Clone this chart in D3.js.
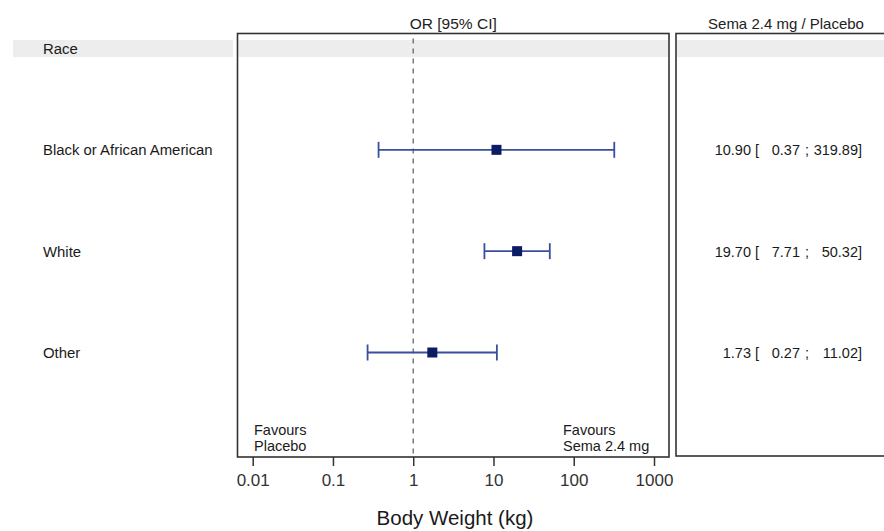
<!DOCTYPE html>
<html>
<head>
<meta charset="utf-8">
<script src="https://cdn.jsdelivr.net/npm/d3@7"></script>
<style>
  html, body { margin: 0; padding: 0; background: #fff; }
  svg { display: block; font-family: "Liberation Sans", Arial, sans-serif; }
</style>
</head>
<body>
<svg id="chart" width="884" height="531"></svg>
<script>
// Subgroup: race. Odds ratios with 95% confidence intervals.
const groupTitle = "Race";
const categories = ["Black or African American", "White", "Other"];
const oddsRatio = [10.90, 19.70, 1.73];
const ciLower = [0.37, 7.71, 0.27];
const ciUpper = [319.89, 50.32, 11.02];
const tickValues = [0.01, 0.1, 1, 10, 100, 1000];
const tickLabels = ["0.01", "0.1", "1", "10", "100", "1000"];

const svg = d3.select("#chart");

// Layout of the panels
const plot = { left: 237.5, right: 669, top: 33.5, bottom: 457 };
const side = { left: 676, right: 900, top: 33.5, bottom: 456 };

const x = d3.scaleLog().domain([0.01, 1000]).range([252.7, 654]);

// Row positions: header row followed by the categories
const y = d3.scalePoint()
  .domain([groupTitle, ...categories])
  .range([48.5, 352.5]);

// Shaded band behind the group header row
const bandTop = 40, bandH = 17;
[[13, 233], [plot.left + 1, plot.right - 1], [side.left + 1, 884]].forEach(([a, b]) => {
  svg.append("rect")
    .attr("x", a).attr("y", bandTop)
    .attr("width", b - a).attr("height", bandH)
    .attr("fill", "#ededed");
});

// Panel frames
svg.append("rect")
  .attr("x", plot.left).attr("y", plot.top)
  .attr("width", plot.right - plot.left).attr("height", plot.bottom - plot.top)
  .attr("fill", "none").attr("stroke", "#333").attr("stroke-width", 1.6);
svg.append("rect")
  .attr("x", side.left).attr("y", side.top)
  .attr("width", side.right - side.left).attr("height", side.bottom - side.top)
  .attr("fill", "none").attr("stroke", "#333").attr("stroke-width", 1.6);

// Column headers
svg.append("text")
  .attr("x", (plot.left + plot.right) / 2).attr("y", 29)
  .attr("text-anchor", "middle").attr("font-size", 15.5).attr("fill", "#222")
  .text("OR [95% CI]");
svg.append("text")
  .attr("x", 786).attr("y", 29)
  .attr("text-anchor", "middle").attr("font-size", 15).attr("fill", "#222")
  .text("Sema 2.4 mg / Placebo");

// Row labels
svg.append("g").selectAll("text")
  .data([groupTitle, ...categories])
  .join("text")
  .attr("x", 43)
  .attr("y", d => y(d) + 5.5)
  .attr("font-size", 14.9)
  .attr("fill", "#1a1a1a")
  .text(d => d);

// Reference line at OR = 1
svg.append("line")
  .attr("x1", x(1)).attr("x2", x(1))
  .attr("y1", plot.top + 5).attr("y2", plot.bottom)
  .attr("stroke", "#666").attr("stroke-width", 1.3)
  .attr("stroke-dasharray", "5,5");

// Confidence intervals with end caps, and point estimates
const rows = categories.map((c, i) => ({ c, or: oddsRatio[i], lo: ciLower[i], hi: ciUpper[i] }));
const ci = svg.append("g").attr("stroke", "#3a4e9c").attr("stroke-width", 1.8);
ci.selectAll("line.ci")
  .data(rows).join("line").attr("class", "ci")
  .attr("x1", d => x(d.lo)).attr("x2", d => x(d.hi))
  .attr("y1", d => y(d.c)).attr("y2", d => y(d.c));
ci.selectAll("line.lo")
  .data(rows).join("line").attr("class", "lo")
  .attr("x1", d => x(d.lo)).attr("x2", d => x(d.lo))
  .attr("y1", d => y(d.c) - 8).attr("y2", d => y(d.c) + 8);
ci.selectAll("line.hi")
  .data(rows).join("line").attr("class", "hi")
  .attr("x1", d => x(d.hi)).attr("x2", d => x(d.hi))
  .attr("y1", d => y(d.c) - 8).attr("y2", d => y(d.c) + 8);

const box = 10;
svg.append("g").selectAll("rect")
  .data(rows).join("rect")
  .attr("x", d => x(d.or) - box / 2)
  .attr("y", d => y(d.c) - box / 2)
  .attr("width", box).attr("height", box)
  .attr("fill", "#0b1b64");

// Estimate [lower ; upper] columns
const fmt = d3.format(".2f");
const vals = svg.append("g").attr("font-size", 14.5).attr("fill", "#1a1a1a");
rows.forEach(d => {
  const yy = y(d.c) + 5.5;
  vals.append("text").attr("x", 751).attr("y", yy).attr("text-anchor", "end").text(fmt(d.or));
  vals.append("text").attr("x", 755).attr("y", yy).text("[");
  vals.append("text").attr("x", 800).attr("y", yy).attr("text-anchor", "end").text(fmt(d.lo));
  vals.append("text").attr("x", 805).attr("y", yy).text(";");
  vals.append("text").attr("x", 858).attr("y", yy).attr("text-anchor", "end").text(fmt(d.hi));
  vals.append("text").attr("x", 858).attr("y", yy).text("]");
});

// Direction annotations
const fav = svg.append("g").attr("font-size", 14.5).attr("fill", "#1a1a1a");
fav.append("text").attr("x", 254).attr("y", 435).text("Favours");
fav.append("text").attr("x", 254).attr("y", 451).text("Placebo");
fav.append("text").attr("x", 563).attr("y", 435).text("Favours");
fav.append("text").attr("x", 563).attr("y", 451).text("Sema 2.4 mg");

// Log axis
const axis = d3.axisBottom(x)
  .tickValues(tickValues)
  .tickFormat((d, i) => tickLabels[i])
  .tickSize(9)
  .tickPadding(8);
const ax = svg.append("g")
  .attr("transform", `translate(0,${plot.bottom})`)
  .call(axis);
ax.select(".domain").remove();
ax.selectAll(".tick line").attr("stroke", "#333").attr("stroke-width", 1.5);
ax.selectAll(".tick text")
  .attr("font-size", 17)
  .attr("fill", "#333")
  .attr("font-family", "'Liberation Sans', Arial, sans-serif");

svg.append("text")
  .attr("x", 455).attr("y", 525)
  .attr("text-anchor", "middle").attr("font-size", 20.5).attr("fill", "#1a1a1a")
  .text("Body Weight (kg)");
</script>
</body>
</html>
